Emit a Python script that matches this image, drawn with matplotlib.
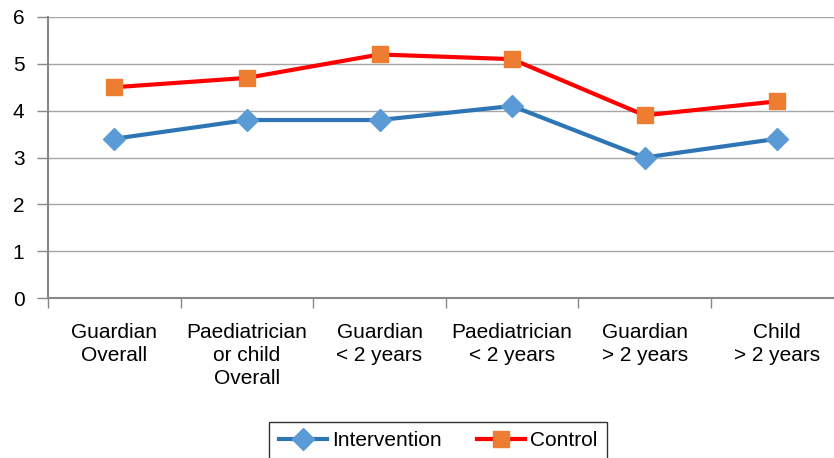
import matplotlib.pyplot as plt
import numpy as np

# data
categories = [
    "Guardian\nOverall",
    "Paediatrician\nor child\nOverall",
    "Guardian\n< 2 years",
    "Paediatrician\n< 2 years",
    "Guardian\n> 2 years",
    "Child\n> 2 years",
]
intervention = [3.4, 3.8, 3.8, 4.1, 3.0, 3.4]
control = [4.5, 4.7, 5.2, 5.1, 3.9, 4.2]

plt.rcParams["font.family"] = ["Liberation Sans", "DejaVu Sans"]

fig = plt.figure(figsize=(8.34, 4.58), dpi=100)
ax = fig.add_axes([48 / 834, 160 / 458, 795.6 / 834, 281 / 458])

x = np.arange(len(categories))

ax.plot(x, intervention, color="#2e75b6", lw=3, marker="D", markersize=11,
        markerfacecolor="#5b9bd5", markeredgecolor="#5b9bd5", label="Intervention")
ax.plot(x, control, color="#ff0000", lw=3, marker="s", markersize=12,
        markerfacecolor="#ed7d31", markeredgecolor="#ed7d31", label="Control")

ax.set_xlim(-0.5, len(categories) - 0.5)
ax.set_ylim(0, 6)
ax.set_yticks(range(0, 7))

# category labels in the middle, tick marks on the boundaries
ax.set_xticks(x)
ax.set_xticklabels(categories, fontsize=15, linespacing=1.25, va="top")
ax.tick_params(axis="x", length=0, pad=18)
ax.set_xticks(np.arange(-0.5, len(categories) + 0.5, 1), minor=True)
ax.tick_params(axis="x", which="minor", length=7, color="#888888", width=1)
ax.tick_params(axis="y", length=8, color="#888888", width=1, labelsize=15, pad=9)

ax.yaxis.grid(True, color="#a6a6a6", lw=1)
ax.set_axisbelow(True)
for side in ["top", "right"]:
    ax.spines[side].set_visible(False)
for side in ["left", "bottom"]:
    ax.spines[side].set_color("#888888")
    ax.spines[side].set_linewidth(1.5)

leg = fig.legend(loc="upper center", bbox_to_anchor=(438 / 834, 36 / 458),
                 ncol=2, fontsize=15, frameon=True, fancybox=False,
                 edgecolor="black", handlelength=2.3, columnspacing=1.7,
                 borderpad=0.45, handletextpad=0.25, borderaxespad=0)
leg.get_frame().set_linewidth(1)

fig.savefig("out.png", dpi=100)
